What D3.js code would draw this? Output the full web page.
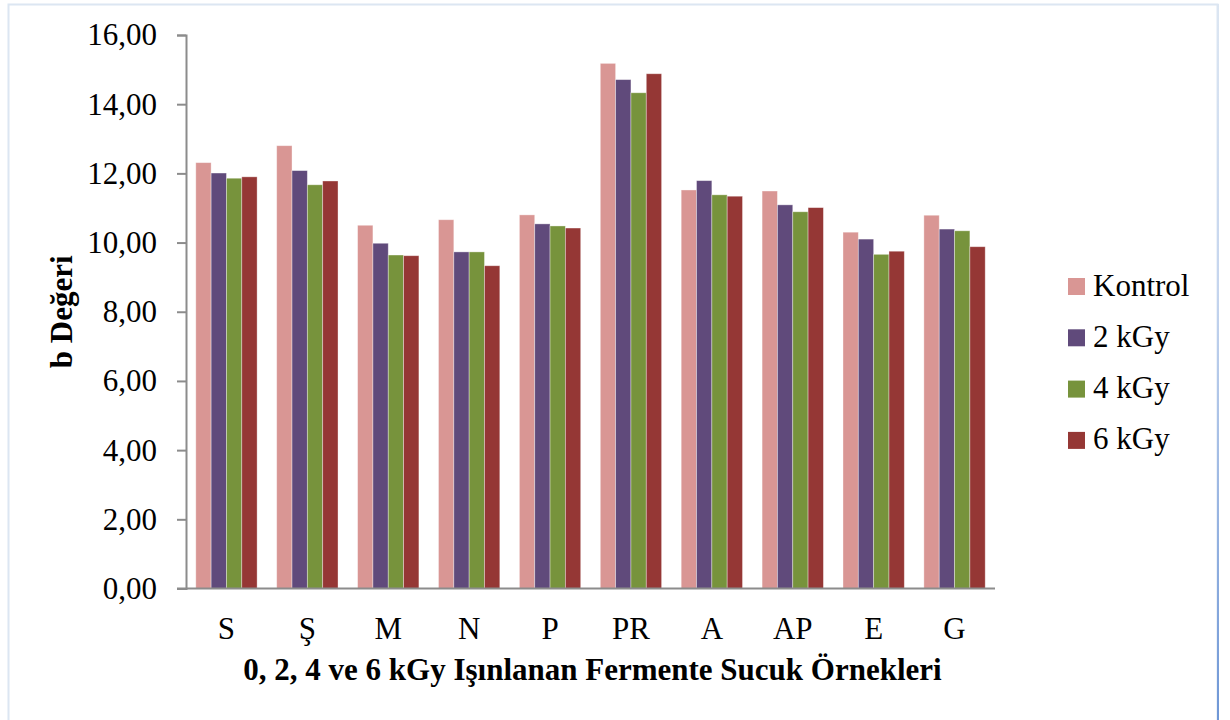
<!DOCTYPE html>
<html>
<head>
<meta charset="utf-8">
<script src="https://cdn.jsdelivr.net/npm/d3@7"></script>
<style>
  body { margin: 0; background: #fff; }
  text { font-family: "Liberation Serif", "Times New Roman", serif; fill: #000; }
</style>
</head>
<body>
<div id="chart"></div>
<script>
// chart data
const categories = ['S', 'Ş', 'M', 'N', 'P', 'PR', 'A', 'AP', 'E', 'G']
const seriesNames = ['Kontrol', '2 kGy', '4 kGy', '6 kGy']
const kontrol = [12.31, 12.80, 10.50, 10.66, 10.80, 15.18, 11.52, 11.49, 10.30, 10.79]
const kgy2 = [12.01, 12.08, 9.98, 9.73, 10.54, 14.71, 11.79, 11.09, 10.10, 10.39]
const kgy4 = [11.86, 11.67, 9.64, 9.73, 10.48, 14.33, 11.38, 10.89, 9.66, 10.34]
const kgy6 = [11.90, 11.78, 9.62, 9.33, 10.42, 14.88, 11.34, 11.01, 9.75, 9.88]
const yTicks = [0, 2, 4, 6, 8, 10, 12, 14, 16]

const colors = ['#d99694', '#604a7b', '#77933c', '#953735']

const width = 1230,
  height = 720,
  plotLeft = 186,
  plotRight = 995,
  plotTop = 35,
  plotBottom = 588.5,
  fontSize = '31px'

const svg = d3.select('#chart')
  .append('svg')
  .attr('width', width)
  .attr('height', height)

// outer chart border
const grad = svg.append('defs').append('linearGradient')
  .attr('id', 'edge')
  .attr('x1', 0).attr('y1', 0).attr('x2', 0).attr('y2', 1)
grad.append('stop').attr('offset', '0%').attr('stop-color', '#dce6f2')
grad.append('stop').attr('offset', '40%').attr('stop-color', '#c5d5ee')
grad.append('stop').attr('offset', '100%').attr('stop-color', '#6f97d6')

svg.append('rect')
  .attr('x', 8.5).attr('y', 4.5)
  .attr('width', 1209).attr('height', 730)
  .attr('fill', 'none')
  .attr('stroke', '#dce6f2')
  .attr('stroke-width', 2)
svg.append('rect')
  .attr('x', 1217).attr('y', 4)
  .attr('width', 2).attr('height', 716)
  .attr('fill', 'url(#edge)')

// scales
const x0 = d3.scaleBand()
  .domain(categories)
  .range([plotLeft, plotRight])
  .paddingInner(0.242)
  .paddingOuter(0.121)

const x1 = d3.scaleBand()
  .domain(seriesNames)
  .range([0, x0.bandwidth()])

const y = d3.scaleLinear()
  .domain([0, 16])
  .range([plotBottom, plotTop])

const fmt = v => d3.format('.2f')(v).replace('.', ',')

// bars
const seriesData = [kontrol, kgy2, kgy4, kgy6]
const rows = categories.map((c, i) => ({
  cat: c,
  vals: seriesNames.map((s, j) => ({ name: s, value: seriesData[j][i], idx: j }))
}))

const groups = svg.selectAll('g.group')
  .data(rows)
  .enter()
  .append('g')
  .attr('class', 'group')
  .attr('transform', d => `translate(${x0(d.cat)}, 0)`)

groups.selectAll('rect')
  .data(d => d.vals)
  .enter()
  .append('rect')
  .attr('x', d => x1(d.name))
  .attr('y', d => y(d.value))
  .attr('width', x1.bandwidth())
  .attr('height', d => y(0) - y(d.value))
  .attr('fill', d => colors[d.idx])
  .attr('stroke', 'rgba(255,255,255,0.45)')
  .attr('stroke-width', 0.8)

// y axis
const yAxis = d3.axisLeft(y)
  .tickValues(yTicks)
  .tickSize(9)
  .tickPadding(20)
  .tickFormat(fmt)

const gy = svg.append('g')
  .attr('transform', `translate(${plotLeft}, 0)`)
  .call(yAxis)
gy.select('.domain').attr('stroke', '#8c8c8c').attr('stroke-width', 2)
gy.selectAll('.tick line').attr('stroke', '#8c8c8c').attr('stroke-width', 2)
gy.selectAll('.tick text')
  .style('font-family', '"Liberation Serif", serif')
  .style('font-size', fontSize)
  .attr('fill', '#000')

// x axis
const xAxis = d3.axisBottom(x0)
  .tickSize(0)
  .tickPadding(0)

const gx = svg.append('g')
  .attr('transform', `translate(0, ${plotBottom})`)
  .call(xAxis)
gx.select('.domain').remove()
gx.append('line')
  .attr('x1', plotLeft - 9).attr('x2', plotRight)
  .attr('y1', 0).attr('y2', 0)
  .attr('stroke', '#8c8c8c')
  .attr('stroke-width', 2)
gx.selectAll('.tick text')
  .attr('dy', null)
  .attr('y', 50)
  .style('font-family', '"Liberation Serif", serif')
  .style('font-size', fontSize)
  .attr('fill', '#000')

// axis titles
svg.append('text')
  .attr('x', (plotLeft + plotRight) / 2 + 2)
  .attr('y', 680)
  .attr('text-anchor', 'middle')
  .style('font-size', fontSize)
  .style('font-weight', 'bold')
  .text('0, 2, 4 ve 6 kGy Işınlanan Fermente Sucuk Örnekleri')

svg.append('text')
  .attr('transform', `translate(72, ${(plotTop + plotBottom) / 2}) rotate(-90)`)
  .attr('text-anchor', 'middle')
  .style('font-size', fontSize)
  .style('font-weight', 'bold')
  .text('b Değeri')

// legend
const legend = svg.selectAll('g.legend')
  .data(seriesNames)
  .enter()
  .append('g')
  .attr('class', 'legend')
  .attr('transform', (d, i) => `translate(1068, ${278 + i * 51.3})`)

legend.append('rect')
  .attr('width', 17)
  .attr('height', 17)
  .attr('fill', (d, i) => colors[i])

legend.append('text')
  .attr('x', 25)
  .attr('y', 17.5)
  .style('font-size', fontSize)
  .text(d => d)
</script>
</body>
</html>
